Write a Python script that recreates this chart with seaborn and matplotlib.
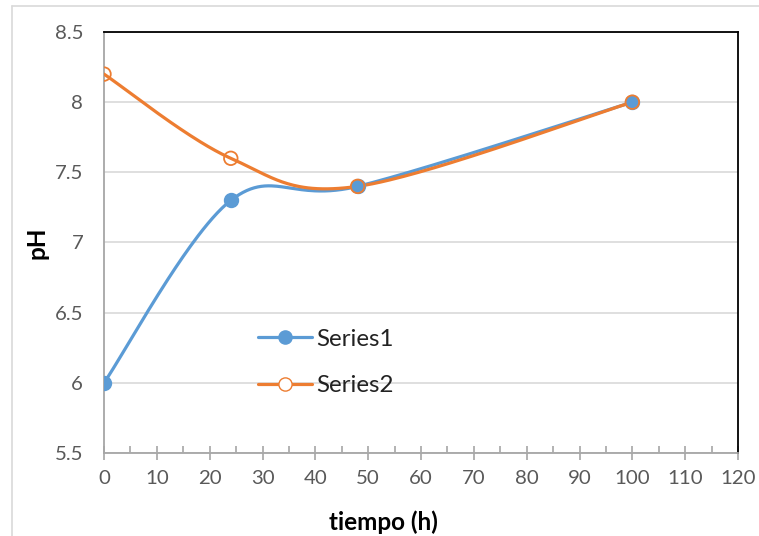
import numpy as np
import pandas as pd
import seaborn as sns
import matplotlib.pyplot as plt
from matplotlib.lines import Line2D

tiempo = [0, 24, 48, 100]
series1 = [6.0, 7.3, 7.4, 8.0]
series2 = [8.2, 7.6, 7.4, 8.0]
series_names = ["Series1", "Series2"]
colors = ["#5B9BD5", "#ED7D31"]

sns.set_theme(style="white")
plt.rcParams['font.family'] = ['Lato', 'DejaVu Sans']

W, H = 759, 536
fig = plt.figure(figsize=(W / 100, H / 100), dpi=100)
L, R, T, B = 104, 738, 32, 453
ax = fig.add_axes([L / W, 1 - B / H, (R - L) / W, (B - T) / H])

xmin, xmax, ymin, ymax = 0, 120, 5.5, 8.5
sx = (R - L) / (xmax - xmin)
sy = (B - T) / (ymax - ymin)


def smooth(xs, ys, n=60):
    # Catmull-Rom style Bezier smoothing in screen space (like Excel smoothed lines)
    P = np.column_stack([np.array(xs) * sx, np.array(ys) * sy])
    out = []
    for i in range(len(P) - 1):
        p0 = P[i - 1] if i > 0 else P[i]
        p1, p2 = P[i], P[i + 1]
        p3 = P[i + 2] if i + 2 < len(P) else P[i + 1]
        c1 = p1 + (p2 - p0) / 6
        c2 = p2 - (p3 - p1) / 6
        t = np.linspace(0, 1, n)[:, None]
        seg = ((1 - t) ** 3) * p1 + 3 * ((1 - t) ** 2) * t * c1 + 3 * (1 - t) * t ** 2 * c2 + t ** 3 * p2
        out.append(seg if i == 0 else seg[1:])
    c = np.vstack(out)
    return c[:, 0] / sx, c[:, 1] / sy


for name, vals, col, filled in [(series_names[0], series1, colors[0], True),
                                (series_names[1], series2, colors[1], False)]:
    cx, cy = smooth(tiempo, vals)
    ax.plot(cx, cy, color=col, lw=2.3, solid_capstyle='round', zorder=3)
    df = pd.DataFrame({"t": tiempo, "v": vals})
    sns.scatterplot(data=df, x="t", y="v", ax=ax, s=95, marker='o',
                    facecolor=col if filled else 'none', edgecolor=col,
                    linewidth=1.3, zorder=4)

ax.set_xlim(xmin, xmax)
ax.set_ylim(ymin, ymax)
ax.set_xticks(np.arange(0, 121, 10))
ax.set_xticks(np.arange(5, 120, 10), minor=True)
ax.set_yticks(np.arange(5.5, 8.51, 0.5))
ax.set_yticklabels(["5.5", "6", "6.5", "7", "7.5", "8", "8.5"])
ax.yaxis.grid(True, color="#D9D9D9", lw=1.2)
ax.set_axisbelow(True)

for s in ['top', 'right']:
    ax.spines[s].set_color('black')
    ax.spines[s].set_linewidth(1.3)
for s in ['left', 'bottom']:
    ax.spines[s].set_color('#A6A6A6')
    ax.spines[s].set_linewidth(1.3)

ax.tick_params(axis='x', which='major', bottom=True, direction='inout', length=10,
               width=1.2, color='#A6A6A6', labelsize=14.7, labelcolor='#595959', pad=7)
ax.tick_params(axis='x', which='minor', bottom=True, direction='in', length=5,
               width=1.2, color='#A6A6A6')
ax.tick_params(axis='y', which='major', left=False, labelsize=14.7, labelcolor='#595959', pad=9)

ax.set_xlabel("tiempo (h)", fontsize=17.5, fontweight='bold', color='black')
ax.xaxis.set_label_coords((383 - L) / (R - L), (B - 522) / (B - T))
ax.xaxis.label.set_va('center')
ax.set_ylabel("pH", fontsize=17.5, fontweight='bold', color='black')
ax.yaxis.set_label_coords((37 - L) / (R - L), (B - 243) / (B - T))
ax.yaxis.label.set_va('center')

handles = [Line2D([0], [0], color=colors[0], lw=2.3, marker='o', markersize=9.5,
                  markerfacecolor=colors[0], markeredgecolor=colors[0]),
           Line2D([0], [0], color=colors[1], lw=2.3, marker='o', markersize=9.5,
                  markerfacecolor='white', markeredgecolor=colors[1])]
leg = ax.legend(handles, series_names, loc='center left',
                bbox_to_anchor=((258 - L) / (R - L), (B - 362.5) / (B - T)),
                frameon=False, fontsize=17.4, handlelength=2.25, labelspacing=1.05,
                handletextpad=0.15, borderpad=0, borderaxespad=0)
for t in leg.get_texts():
    t.set_color('#222222')

# outer chart border (light gray)
fig.add_artist(Line2D([12 / W, 12 / W], [0, 1 - 6 / H], color='#D9D9D9', lw=1.2))
fig.add_artist(Line2D([12 / W, 1], [1 - 6 / H, 1 - 6 / H], color='#D9D9D9', lw=1.2))

fig.savefig("out.png", dpi=100, facecolor='white')
